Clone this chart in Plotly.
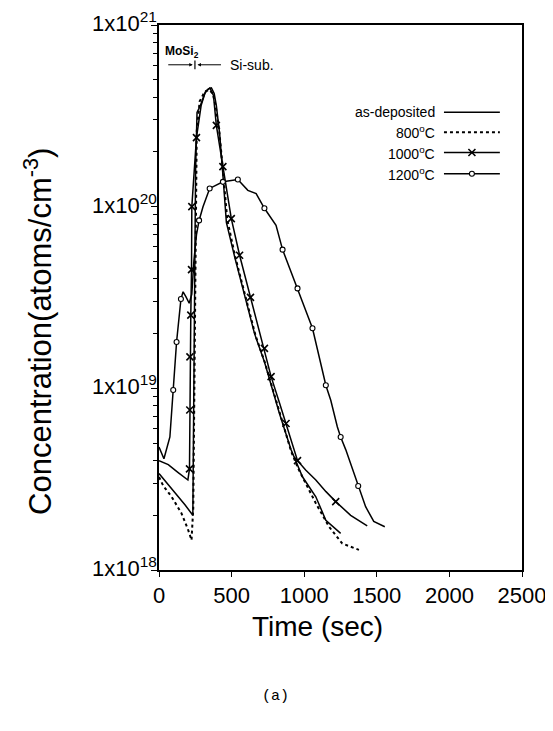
import plotly.graph_objects as go

# SIMS depth profile: time (sec) vs concentration (atoms/cm^3)
t_asdep = [0, 60, 120, 180, 233, 237, 241, 246, 252, 262, 270, 285, 315, 340, 361, 380,
           395, 418, 440, 464, 521, 589, 658, 726, 783, 829, 909, 988, 1080, 1149, 1251]
c_asdep = [3.4e18, 2.98e18, 2.58e18, 2.28e18, 2.0e18, 4.5e18, 1.5e19, 5e19, 1.6e20, 3.3e20,
           3.4e20, 3.6e20, 4.2e20, 4.45e20, 4.5e20, 4.2e20, 3.6e20, 2.5e20, 1.5e20, 8.2e19,
           5.3e19, 3.3e19, 2.0e19, 1.4e19, 9.6e18, 7.3e18, 4.6e18, 3.26e18, 2.53e18, 1.88e18,
           1.59e18]

t_800 = [0, 30, 87, 155, 201, 224, 236, 242, 247, 252, 260, 280, 315, 345, 370, 390, 415,
         440, 470, 525, 595, 665, 730, 790, 835, 910, 960, 1012, 1080, 1171, 1262, 1377]
c_800 = [3.25e18, 2.9e18, 2.53e18, 2.05e18, 1.66e18, 1.46e18, 2.2e18, 8e18, 3e19, 1e20,
         2.6e20, 3.8e20, 4.3e20, 4.4e20, 4.2e20, 3.6e20, 2.6e20, 1.6e20, 8.5e19, 5.3e19,
         3.2e19, 1.95e19, 1.38e19, 9.4e18, 7.1e18, 4.5e18, 3.6e18, 3.0e18, 2.33e18, 1.73e18,
         1.40e18, 1.29e18]

t_1000 = [0, 64, 130, 199, 210, 212, 213, 219, 224, 226, 258, 290, 320, 350, 375, 395, 420,
          440, 470, 498, 555, 630, 690, 726, 772, 830, 875, 954, 1010, 1080, 1150, 1217,
          1320, 1434]
c_1000 = [4.0e18, 3.8e18, 3.45e18, 3.13e18, 3.6e18, 7.6e18, 1.49e19, 2.53e19, 4.5e19, 1.0e20,
          2.4e20, 3.6e20, 4.3e20, 4.5e20, 4.1e20, 2.8e20, 2.1e20, 1.66e20, 1.2e20, 8.6e19,
          5.4e19, 3.17e19, 2.1e19, 1.66e19, 1.16e19, 8.3e18, 6.4e18, 4.0e18, 3.55e18, 3.13e18,
          2.7e18, 2.38e18, 2.0e18, 1.75e18]
t_1000_mk = [210, 212, 213, 219, 224, 226, 258, 395, 440, 498, 555, 630, 726, 772, 875, 954, 1217]
c_1000_mk = [3.6e18, 7.6e18, 1.49e19, 2.53e19, 4.5e19, 1.0e20, 2.4e20, 2.8e20, 1.66e20, 8.6e19,
             5.4e19, 3.17e19, 1.66e19, 1.16e19, 6.4e18, 4.0e18, 2.38e18]

t_1200 = [0, 34, 75, 98, 121, 151, 166, 185, 208, 226, 240, 258, 276, 303, 349, 440, 543,
          612, 669, 726, 806, 851, 954, 1057, 1149, 1183, 1228, 1251, 1286, 1342, 1372, 1423,
          1479, 1555]
c_1200 = [4.75e18, 4.1e18, 5.4e18, 9.8e18, 1.8e19, 3.1e19, 3.4e19, 3.2e19, 2.94e19, 3.3e19,
          5.0e19, 7.0e19, 8.4e19, 1.0e20, 1.26e20, 1.37e20, 1.41e20, 1.23e20, 1.18e20, 9.8e19,
          7.9e19, 5.8e19, 3.55e19, 2.14e19, 1.04e19, 8.6e18, 6.15e18, 5.4e18, 4.6e18, 3.4e18,
          2.9e18, 2.23e18, 1.85e18, 1.73e18]
t_1200_mk = [98, 121, 151, 276, 349, 440, 543, 726, 851, 954, 1057, 1149, 1251, 1372]
c_1200_mk = [9.8e18, 1.8e19, 3.1e19, 8.4e19, 1.26e20, 1.37e20, 1.41e20, 9.8e19, 5.8e19,
             3.55e19, 2.14e19, 1.04e19, 5.4e18, 2.9e18]

legend_labels = ["as-deposited", "800<sup>o</sup>C", "1000<sup>o</sup>C", "1200<sup>o</sup>C"]
y_decades = [18, 19, 20, 21]
x_ticks = [0, 500, 1000, 1500, 2000, 2500]

FONT = "Liberation Sans, Arial, sans-serif"
INK = "black"

X_MARK = dict(symbol="x-thin", size=7, line=dict(color=INK, width=1.6))
O_MARK = dict(symbol="circle", size=5, color="white", line=dict(color=INK, width=1.1))

fig = go.Figure()

fig.add_trace(go.Scatter(x=t_asdep, y=c_asdep, mode="lines",
                         line=dict(color=INK, width=1.5)))
fig.add_trace(go.Scatter(x=t_800, y=c_800, mode="lines",
                         line=dict(color=INK, width=2, dash="dot")))
fig.add_trace(go.Scatter(x=t_1000, y=c_1000, mode="lines",
                         line=dict(color=INK, width=1.5)))
fig.add_trace(go.Scatter(x=t_1000_mk, y=c_1000_mk, mode="markers", marker=X_MARK))
fig.add_trace(go.Scatter(x=t_1200, y=c_1200, mode="lines",
                         line=dict(color=INK, width=1.5)))
fig.add_trace(go.Scatter(x=t_1200_mk, y=c_1200_mk, mode="markers", marker=O_MARK))

# hand-made legend (labels on the left, line sample on the right)
rows = [0.840, 0.803, 0.766, 0.727]
samples = [
    (dict(color=INK, width=1.5), None),
    (dict(color=INK, width=2, dash="dot"), None),
    (dict(color=INK, width=1.5), X_MARK),
    (dict(color=INK, width=1.5), O_MARK),
]
for yr, (ln, mk) in zip(rows, samples):
    fig.add_trace(go.Scatter(x=[0.785, 0.939], y=[yr, yr], mode="lines",
                             line=ln, xaxis="x2", yaxis="y2"))
    if mk is not None:
        fig.add_trace(go.Scatter(x=[0.862], y=[yr], mode="markers", marker=mk,
                                 xaxis="x2", yaxis="y2"))

annotations = []
for yr, lab in zip(rows, legend_labels):
    annotations.append(dict(x=0.766, y=yr, xref="paper", yref="paper", text=lab,
                            xanchor="right", yanchor="middle", showarrow=False,
                            font=dict(family=FONT, size=14, color=INK)))

for d in y_decades:
    annotations.append(dict(x=0, y=d, xref="paper", yref="y", xshift=0, yshift=3,
                            text=f"1x10<sup>{d}</sup>", xanchor="right", yanchor="middle",
                            showarrow=False, font=dict(family=FONT, size=22, color=INK)))

annotations += [
    dict(x=-0.333, y=0.437, xref="paper", yref="paper", text="Concentration(atoms/cm<sup>-3</sup>)",
         xanchor="center", yanchor="middle", textangle=-90, showarrow=False,
         font=dict(family=FONT, size=31, color=INK)),
    dict(x=0.438, y=-0.103, xref="paper", yref="paper", text="Time (sec)",
         xanchor="center", yanchor="middle", showarrow=False,
         font=dict(family=FONT, size=28, color=INK)),
    dict(x=0.322, y=-0.233, xref="paper", yref="paper", text="(a)",
         xanchor="center", yanchor="middle", showarrow=False,
         font=dict(family="Liberation Mono, Courier New, monospace", size=15, color=INK)),
    dict(x=0.011, y=0.950, xref="paper", yref="paper", text="<b>MoSi<sub>2</sub></b>",
         xanchor="left", yanchor="middle", showarrow=False,
         font=dict(family=FONT, size=12, color=INK)),
    dict(x=0.190, y=0.926, xref="paper", yref="paper", text="Si-sub.",
         xanchor="left", yanchor="middle", showarrow=False,
         font=dict(family=FONT, size=14, color=INK)),
    # MoSi2 | Si-sub. interface arrows
    dict(x=0.093, y=0.927, xref="paper", yref="paper", text="", showarrow=True,
         ax=-26, ay=0, arrowhead=2, arrowsize=0.7, arrowwidth=1, arrowcolor=INK),
    dict(x=0.106, y=0.927, xref="paper", yref="paper", text="", showarrow=True,
         ax=25, ay=0, arrowhead=2, arrowsize=0.7, arrowwidth=1, arrowcolor=INK),
]

shapes = [
    dict(type="line", xref="paper", yref="paper", x0=0.099, x1=0.099, y0=0.919, y1=0.935,
         line=dict(color=INK, width=1.2)),
]

minor_vals = [m * 10.0 ** d for d in y_decades[:-1] for m in range(2, 10)]

# the page body has an 8px margin; keep the figure well inside the window
fig.update_layout(
    width=545, height=705,
    margin=dict(l=151, r=31, t=17, b=143),
    paper_bgcolor="white", plot_bgcolor="white",
    showlegend=False,
    font=dict(family=FONT, color=INK),
    xaxis=dict(range=[0, 2500], tickvals=x_ticks, ticks="outside", ticklen=5, tickwidth=1.2,
               tickcolor=INK, showline=True, linecolor=INK, linewidth=1.5, mirror=True,
               showgrid=False, zeroline=False, automargin=False, ticklabeloverflow="allow",
               tickfont=dict(family=FONT, size=22, color=INK)),
    yaxis=dict(type="log", range=[18, 21], tickvals=[10.0 ** d for d in y_decades],
               showticklabels=False, ticks="outside", ticklen=6, tickwidth=1.2, tickcolor=INK,
               minor=dict(tickvals=minor_vals, ticks="outside", ticklen=4, tickcolor=INK,
                          tickwidth=1, showgrid=False),
               showline=True, linecolor=INK, linewidth=1.5, mirror=True, showgrid=False,
               zeroline=False, automargin=False),
    xaxis2=dict(overlaying="x", range=[0, 1], visible=False, anchor="y2"),
    yaxis2=dict(overlaying="y", range=[0, 1], visible=False, anchor="x2"),
    annotations=annotations,
    shapes=shapes,
)

fig.write_html("out.html")
